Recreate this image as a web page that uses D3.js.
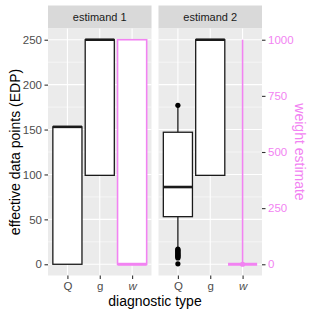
<!DOCTYPE html>
<html>
<head>
<meta charset="utf-8">
<script src="https://cdn.jsdelivr.net/npm/d3@7"></script>
<style>
  body { margin: 0; background: #fff; }
  text { font-family: "Liberation Sans", Arial, sans-serif; }
</style>
</head>
<body>
<svg id="chart" width="316" height="316"></svg>
<script>
const facets = ["estimand 1", "estimand 2"];
const types = ["Q", "g", "w"];
const edpTicks = [0, 50, 100, 150, 200, 250];
const weightTicks = [0, 250, 500, 750, 1000];

// box stats for EDP (Q, g) per facet
const edpBoxes = [
  { facet: "estimand 1", type: "Q", ymin: 0, lower: 0, middle: 153, upper: 153, ymax: 153 },
  { facet: "estimand 1", type: "g", ymin: 99, lower: 99, middle: 250, upper: 250, ymax: 250 },
  { facet: "estimand 2", type: "Q", ymin: 17, lower: 53, middle: 86, upper: 147, ymax: 175 },
  { facet: "estimand 2", type: "g", ymin: 99, lower: 99, middle: 250, upper: 250, ymax: 250 }
];
const edpOutliers = [
  { facet: "estimand 2", type: "Q", values: [177, 17, 16, 15, 14, 13, 12, 11, 10, 9, 8, 7, 0.5] }
];

// box stats for weights (w), on the right axis
const weightBoxes = [
  { facet: "estimand 1", type: "w", ymin: 0, lower: 0, middle: 0, upper: 1000, ymax: 1000 },
  { facet: "estimand 2", type: "w", ymin: 0, lower: 0, middle: 0, upper: 0, ymax: 1000 }
];
const weightOutliers = [
  { facet: "estimand 2", type: "w", values: [0] }
];

const pink = "#F283F2";
const svg = d3.select("#chart");

const panelTop = 28.5, panelBottom = 275.5, stripTop = 5.5;
const fx = d3.scaleBand().domain(facets).range([48, 262]).paddingInner(0.063);

const y = d3.scaleLinear().domain([-12.5, 262.5]).range([panelBottom, panelTop]);
const yw = d3.scaleLinear().domain([-50, 1050]).range([panelBottom, panelTop]);

const x = d3.scalePoint().domain(types).range([0, fx.bandwidth()]).padding(0.6);
const step = x.step();
const boxW = step * 0.9;

facets.forEach((f) => {
  const g = svg.append("g").attr("transform", `translate(${fx(f)},0)`);
  const w = fx.bandwidth();

  // strip
  g.append("rect").attr("x", 0).attr("y", stripTop).attr("width", w)
    .attr("height", panelTop - stripTop).attr("fill", "#D9D9D9");
  g.append("text").attr("x", w / 2).attr("y", (stripTop + panelTop) / 2 + 4)
    .attr("text-anchor", "middle").attr("font-size", 11).attr("fill", "#1A1A1A").text(f);

  // panel
  g.append("rect").attr("x", 0).attr("y", panelTop).attr("width", w)
    .attr("height", panelBottom - panelTop).attr("fill", "#EBEBEB");

  const minor = d3.range(25, 250, 50);
  g.selectAll(".minor").data(minor).join("line")
    .attr("x1", 0).attr("x2", w).attr("y1", (d) => y(d)).attr("y2", (d) => y(d))
    .attr("stroke", "#fff").attr("stroke-width", 0.55);
  g.selectAll(".major").data(edpTicks).join("line")
    .attr("x1", 0).attr("x2", w).attr("y1", (d) => y(d)).attr("y2", (d) => y(d))
    .attr("stroke", "#fff").attr("stroke-width", 1.1);
  g.selectAll(".vmajor").data(types).join("line")
    .attr("x1", (d) => x(d)).attr("x2", (d) => x(d)).attr("y1", panelTop).attr("y2", panelBottom)
    .attr("stroke", "#fff").attr("stroke-width", 1.1);

  // boxes
  const drawBox = (b, sy, color, lw, medW) => {
    const cx = x(b.type);
    g.append("line").attr("x1", cx).attr("x2", cx).attr("y1", sy(b.upper)).attr("y2", sy(b.ymax))
      .attr("stroke", color).attr("stroke-width", lw);
    g.append("line").attr("x1", cx).attr("x2", cx).attr("y1", sy(b.lower)).attr("y2", sy(b.ymin))
      .attr("stroke", color).attr("stroke-width", lw);
    g.append("rect").attr("x", cx - boxW / 2).attr("y", sy(b.upper))
      .attr("width", boxW).attr("height", sy(b.lower) - sy(b.upper))
      .attr("fill", "#fff").attr("stroke", color).attr("stroke-width", lw);
    g.append("line").attr("x1", cx - boxW / 2).attr("x2", cx + boxW / 2)
      .attr("y1", sy(b.middle)).attr("y2", sy(b.middle))
      .attr("stroke", color).attr("stroke-width", medW);
  };
  const drawOut = (o, sy, color) => {
    g.selectAll(null).data(o.values).join("circle")
      .attr("cx", x(o.type)).attr("cy", (d) => sy(d)).attr("r", 2.6).attr("fill", color);
  };

  edpBoxes.filter((b) => b.facet === f).forEach((b) => drawBox(b, y, "#1A1A1A", 1.3, 2.6));
  edpOutliers.filter((o) => o.facet === f).forEach((o) => drawOut(o, y, "#000"));
  weightBoxes.filter((b) => b.facet === f).forEach((b) => drawBox(b, yw, pink, 1.6, 3));
  weightOutliers.filter((o) => o.facet === f).forEach((o) => drawOut(o, yw, pink));

  // x axis
  const xa = g.append("g").attr("transform", `translate(0,${panelBottom})`)
    .call(d3.axisBottom(x).tickSize(3.5).tickPadding(2.5));
  xa.select(".domain").remove();
  xa.selectAll("line").attr("stroke", "#333").attr("stroke-width", 1.1);
  xa.selectAll("text").attr("font-size", 11.5).attr("fill", "#4D4D4D")
    .attr("font-family", "Liberation Sans, Arial, sans-serif")
    .attr("font-style", (d) => (d === "w" ? "italic" : "normal"));
});

// left axis
const ya = svg.append("g").attr("transform", `translate(${fx(facets[0])},0)`)
  .call(d3.axisLeft(y).tickValues(edpTicks).tickSize(3.5).tickPadding(2.5));
ya.select(".domain").remove();
ya.selectAll("line").attr("stroke", "#333").attr("stroke-width", 1.1);
ya.selectAll("text").attr("font-size", 11.5).attr("fill", "#4D4D4D")
  .attr("font-family", "Liberation Sans, Arial, sans-serif");

// right axis
const ra = svg.append("g").attr("transform", `translate(${fx(facets[1]) + fx.bandwidth()},0)`)
  .call(d3.axisRight(yw).tickValues(weightTicks).tickFormat(d3.format("d")).tickSize(3.5).tickPadding(2.5));
ra.select(".domain").remove();
ra.selectAll("line").attr("stroke", "#333").attr("stroke-width", 1.1);
ra.selectAll("text").attr("font-size", 11.5).attr("fill", pink)
  .attr("font-family", "Liberation Sans, Arial, sans-serif");

// titles
const midY = (panelTop + panelBottom) / 2;
svg.append("text").attr("transform", `translate(19.5,${midY}) rotate(-90)`)
  .attr("text-anchor", "middle").attr("font-size", 14).attr("fill", "#000")
  .text("effective data points (EDP)");
svg.append("text").attr("transform", `translate(294.5,${midY}) rotate(90)`)
  .attr("text-anchor", "middle").attr("font-size", 14).attr("fill", pink)
  .text("weight estimate");
svg.append("text").attr("x", (48 + 262) / 2).attr("y", 306)
  .attr("text-anchor", "middle").attr("font-size", 14).attr("fill", "#000")
  .text("diagnostic type");
</script>
</body>
</html>
